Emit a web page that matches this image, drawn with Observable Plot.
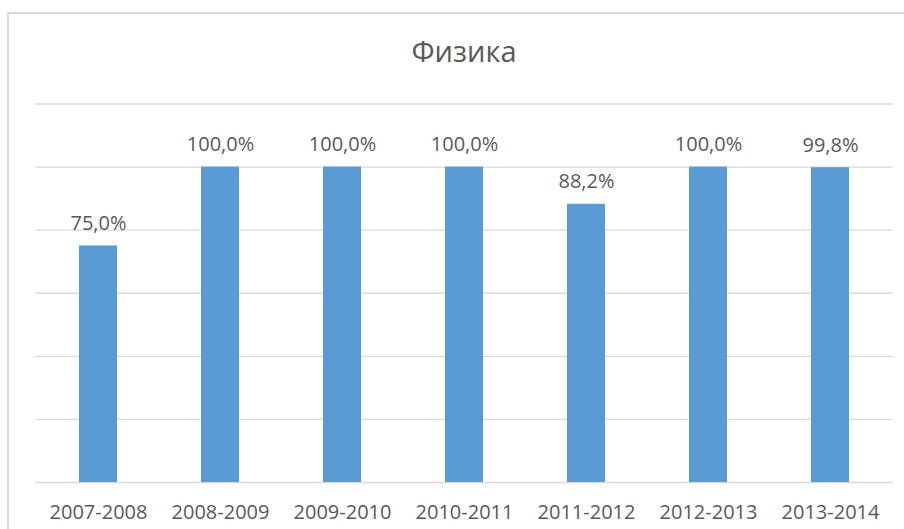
<!DOCTYPE html>
<html>
<head>
<meta charset="utf-8">
<script src="https://cdn.jsdelivr.net/npm/d3@7"></script>
<script src="https://cdn.jsdelivr.net/npm/@observablehq/plot@0.6"></script>
<style>
  html, body { margin: 0; padding: 0; background: #fff; overflow: hidden; }
  body { width: 904px; height: 529px; position: relative; font-family: "Open Sans", sans-serif; }
  #frame { position: absolute; left: 7px; top: 12px; width: 920px; height: 540px; border: 2px solid #d9d9d9; box-sizing: border-box; }
  #title { position: absolute; top: 34px; left: 35px; width: 858px; text-align: center; font-size: 29px; color: #595959; line-height: 1.2; }
  #chart { position: absolute; left: 0; top: 80px; }
</style>
</head>
<body>
<div id="frame"></div>
<div id="title">Физика</div>
<div id="chart"></div>
<script>
const categories = ["2007-2008", "2008-2009", "2009-2010", "2010-2011", "2011-2012", "2012-2013", "2013-2014"];
const values = [75.0, 100.0, 100.0, 100.0, 88.2, 100.0, 99.8];
const gridTicks = [0, 20, 40, 60, 80, 100, 120];

const data = categories.map((c, i) => ({category: c, value: values[i]}));
const fmt = v => v.toFixed(1).replace(".", ",") + "%";

const chart = Plot.plot({
  width: 904,
  height: 449,
  marginLeft: 35,
  marginRight: 11,
  marginTop: 23.5,
  marginBottom: 47,
  style: {fontFamily: "Open Sans, sans-serif", fontSize: "20px", color: "#595959", background: "transparent"},
  x: {domain: categories, paddingInner: 0.69, paddingOuter: 0.345, label: null},
  y: {domain: [0, 120], label: null},
  marks: [
    Plot.ruleY(gridTicks, {stroke: "#d9d9d9", strokeWidth: 1.3}),
    Plot.barY(data, {x: "category", y: "value", fill: "#5b9bd5"}),
    Plot.text(data, {x: "category", y: "value", text: d => fmt(d.value), dy: -22.5, lineAnchor: "middle", fill: "#595959", fontSize: 20}),
    Plot.axisX({tickSize: 0, tickPadding: 22, fontSize: 20, fill: "#595959", label: null}),
    Plot.axisY({ticks: [], label: null})
  ]
});
document.getElementById("chart").appendChild(chart);
</script>
</body>
</html>
